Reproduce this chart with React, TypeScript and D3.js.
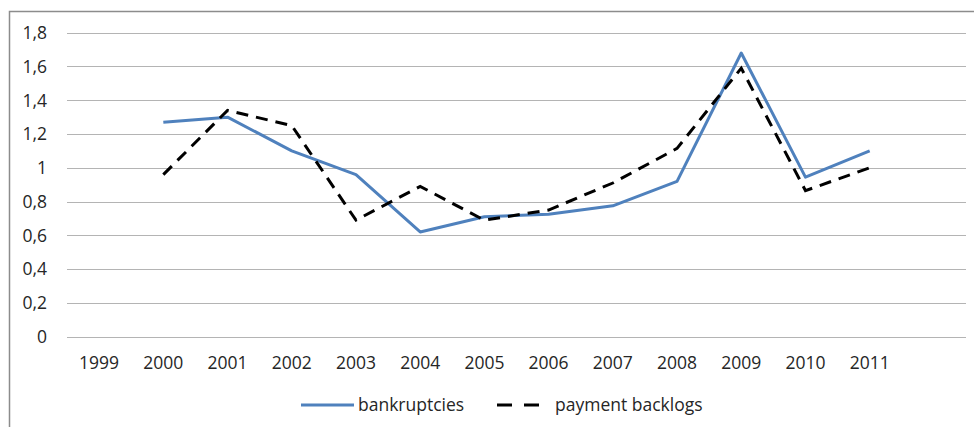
import { useEffect, useRef } from 'react';
import * as d3 from 'd3';

// categories (last band is empty, as in the original)
const years = ['1999', '2000', '2001', '2002', '2003', '2004', '2005', '2006', '2007', '2008', '2009', '2010', '2011', ''];
const bankruptcies = [null, 1.27, 1.3, 1.1, 0.96, 0.62, 0.71, 0.725, 0.775, 0.92, 1.68, 0.945, 1.1, null];
const paymentBacklogs = [null, 0.96, 1.34, 1.25, 0.69, 0.89, 0.69, 0.75, 0.91, 1.115, 1.59, 0.865, 1.0, null];
const yTicks = [0, 0.2, 0.4, 0.6, 0.8, 1, 1.2, 1.4, 1.6, 1.8];

const W = 974;
const H = 427;
const FONT = '"Open Sans", sans-serif';
const FS = 17.5;

export default function App() {
  const svgRef = useRef<SVGSVGElement>(null);

  useEffect(() => {
    const svg = d3.select(svgRef.current);
    svg.selectAll('*').remove();

    const left = 67, right = 966, top = 32.7, bottom = 336.7;

    const x = d3.scaleBand().domain(years.map((y, i) => i + '')).range([left, right]);
    const y = d3.scaleLinear().domain([0, 1.8]).range([bottom, top]);
    const cx = (i: number) => (x(i + '') as number) + x.bandwidth() / 2;

    // chart border
    svg.append('rect')
      .attr('x', 9.5).attr('y', 11.5)
      .attr('width', 1000).attr('height', 500)
      .attr('fill', 'none').attr('stroke', '#8c8c8c').attr('stroke-width', 1.5);

    // gridlines
    svg.append('g').selectAll('line')
      .data(yTicks)
      .join('line')
      .attr('x1', left).attr('x2', right)
      .attr('y1', d => Math.round(y(d)) + 0.5).attr('y2', d => Math.round(y(d)) + 0.5)
      .attr('stroke', '#b4b4b4').attr('stroke-width', 1.2);

    // y labels
    svg.append('g').selectAll('text')
      .data(yTicks)
      .join('text')
      .attr('x', 47).attr('y', d => y(d))
      .attr('dy', '0.36em')
      .attr('text-anchor', 'end')
      .attr('font-family', FONT).attr('font-size', FS)
      .attr('fill', '#262626')
      .text(d => d3.format('.1f')(d).replace('.', ',').replace(/,0$/, ''));

    // x labels
    svg.append('g').selectAll('text')
      .data(years)
      .join('text')
      .attr('x', (d, i) => cx(i)).attr('y', 363)
      .attr('dy', '0.36em')
      .attr('text-anchor', 'middle')
      .attr('font-family', FONT).attr('font-size', FS)
      .attr('fill', '#262626')
      .text(d => d);

    const line = d3.line<number | null>()
      .defined(d => d != null)
      .x((d, i) => cx(i))
      .y(d => y(d as number));

    svg.append('path')
      .attr('d', line(bankruptcies))
      .attr('fill', 'none').attr('stroke', '#4f81bd').attr('stroke-width', 3)
      .attr('stroke-linejoin', 'round');

    svg.append('path')
      .attr('d', line(paymentBacklogs))
      .attr('fill', 'none').attr('stroke', '#000').attr('stroke-width', 3)
      .attr('stroke-dasharray', '12,8');

    // legend
    const ly = 405;
    const lg = svg.append('g');
    lg.append('line')
      .attr('x1', 301).attr('x2', 354).attr('y1', ly).attr('y2', ly)
      .attr('stroke', '#4f81bd').attr('stroke-width', 3);
    lg.append('text')
      .attr('x', 358).attr('y', ly).attr('dy', '0.36em')
      .attr('font-family', FONT).attr('font-size', FS).attr('fill', '#262626')
      .text('bankruptcies');
    lg.append('line')
      .attr('x1', 497).attr('x2', 539).attr('y1', ly).attr('y2', ly)
      .attr('stroke', '#000').attr('stroke-width', 3)
      .attr('stroke-dasharray', '15,12');
    lg.append('text')
      .attr('x', 555).attr('y', ly).attr('dy', '0.36em')
      .attr('font-family', FONT).attr('font-size', FS).attr('fill', '#262626')
      .text('payment backlogs');
  }, []);

  return (
    <svg
      ref={svgRef}
      width={W}
      height={H}
      style={{ position: 'absolute', left: 0, top: 0, background: '#fff', display: 'block' }}
    />
  );
}
